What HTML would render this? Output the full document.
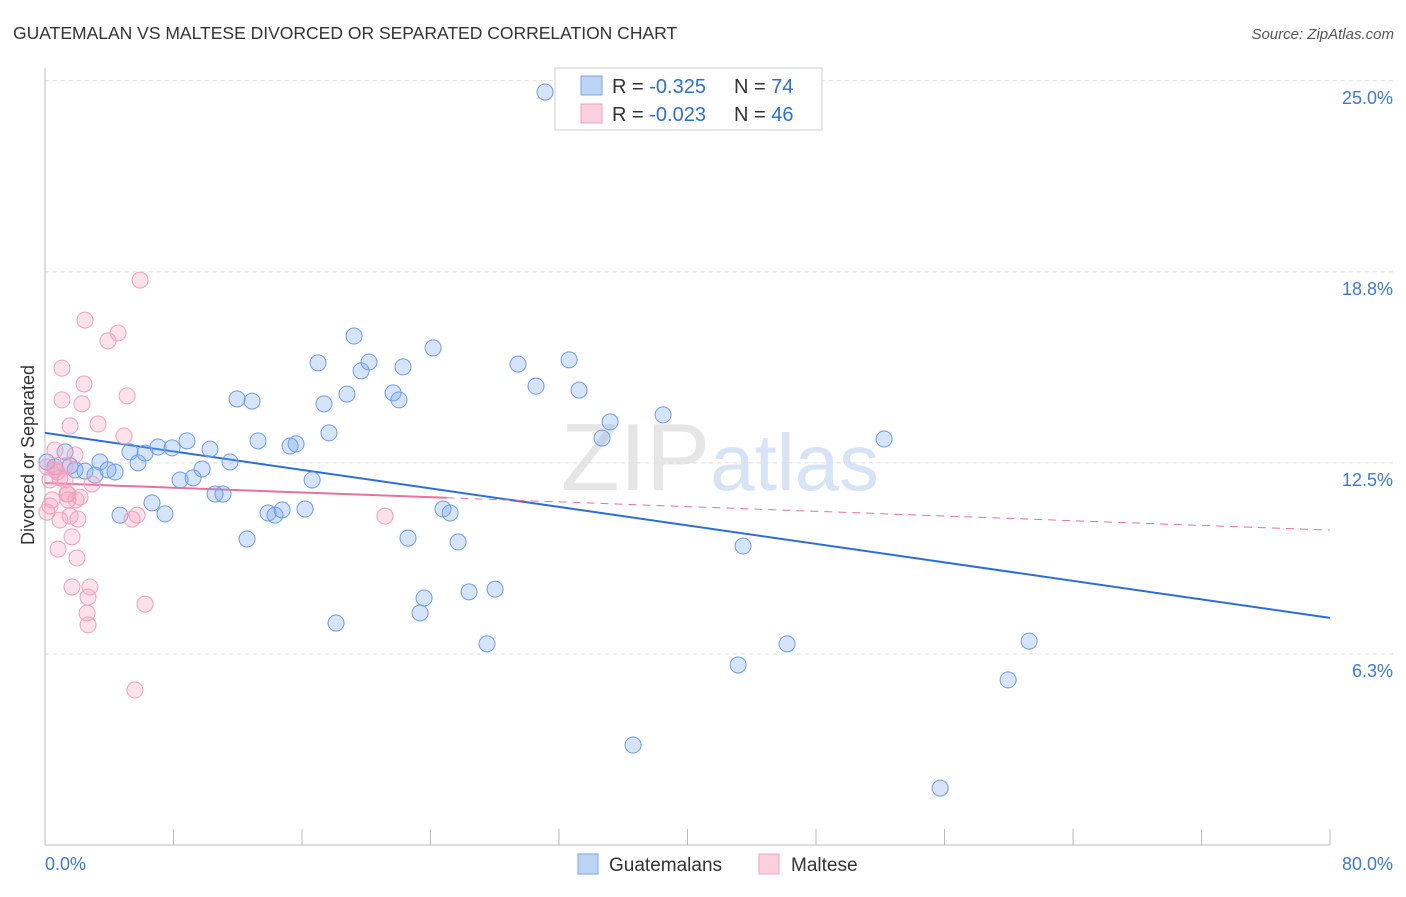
<!DOCTYPE html>
<html><head><meta charset="utf-8"><style>
body{margin:0;background:#fff;font-family:"Liberation Sans",sans-serif}
svg text{font-family:"Liberation Sans",sans-serif}
</style></head><body>
<svg id="chart" width="1406" height="892" viewBox="0 0 1406 892" xmlns="http://www.w3.org/2000/svg">
<text x="13" y="39" font-size="17.5" fill="#333">GUATEMALAN VS MALTESE DIVORCED OR SEPARATED CORRELATION CHART</text>
<text x="1394" y="39" font-size="15" fill="#555" text-anchor="end" font-style="italic">Source: ZipAtlas.com</text>
<text x="720" y="490" font-size="96" text-anchor="middle" fill="#e6e6e6" font-family="Liberation Serif"><tspan>ZIP</tspan><tspan fill="#d6e4f5" font-family="Liberation Sans" font-size="80">atlas</tspan></text>
<text transform="translate(34,455) rotate(-90)" font-size="18" fill="#333" text-anchor="middle">Divorced or Separated</text>
<g id="grid"></g><g id="axes"></g><g id="trend"></g><g id="points"></g>
<g>
<rect x="555" y="68" width="267" height="62" fill="#fff" stroke="#ccc"/>
<rect x="581" y="76" width="21" height="19" fill="#bcd4f5" stroke="#7aa6e6"/>
<rect x="581" y="104" width="21" height="19" fill="#fbcfdc" stroke="#f0a0bc"/>
<text x="612" y="93" font-size="20" fill="#333">R = <tspan fill="#2b6fd6">-0.325</tspan></text>
<text x="734" y="93" font-size="20" fill="#333">N = <tspan fill="#2b6fd6">74</tspan></text>
<text x="612" y="121" font-size="20" fill="#333">R = <tspan fill="#2b6fd6">-0.023</tspan></text>
<text x="734" y="121" font-size="20" fill="#333">N = <tspan fill="#2b6fd6">46</tspan></text>
</g>
<g>
<rect x="578" y="854" width="20" height="20" fill="#bcd4f5" stroke="#7aa6e6"/>
<text x="609" y="871" font-size="19" fill="#333">Guatemalans</text>
<rect x="759" y="854" width="20" height="20" fill="#fbcfdc" stroke="#f0a0bc"/>
<text x="791" y="871" font-size="19" fill="#333">Maltese</text>
</g>
</svg>
<script>
const yTicks=[25,18.75,12.5,6.25];
const yTickLabels=["25.0%","18.8%","12.5%","6.3%"];
const xLabels=["0.0%","80.0%"];
const blueX=[31.13,0.12,0.62,1.25,1.56,1.87,2.49,3.11,3.42,3.92,4.36,4.67,5.29,5.79,6.23,6.66,7.04,7.47,7.91,8.41,8.84,9.22,9.78,10.27,10.59,11.08,11.52,11.96,12.58,12.89,13.26,13.89,14.32,14.76,15.26,15.63,16.19,16.63,17.00,17.37,17.68,18.12,18.80,19.24,19.68,20.17,21.67,22.04,22.29,22.60,23.35,23.60,24.16,24.78,25.22,25.72,26.40,27.52,28.02,29.45,30.57,32.63,33.25,34.68,35.18,36.61,38.48,43.15,43.46,46.20,52.24,55.73,59.96,61.27];
const blueY=[24.63,12.53,12.37,12.86,12.40,12.27,12.23,12.10,12.53,12.27,12.20,10.79,12.86,12.50,12.82,11.19,13.02,10.83,12.99,11.94,13.22,12.01,12.30,12.95,11.48,11.48,12.53,14.59,10.01,14.52,13.22,10.86,10.79,10.96,13.05,13.12,10.99,11.94,15.77,14.43,13.48,7.26,14.75,16.65,15.51,15.80,14.79,14.56,15.64,10.04,7.59,8.08,16.26,10.99,10.86,9.91,8.28,6.58,8.37,15.73,15.01,15.87,14.88,13.31,13.84,3.27,14.07,5.89,9.78,6.58,13.28,1.86,5.40,6.67];
const pinkX=[0.12,0.31,0.44,0.62,0.75,0.93,0.81,1.06,1.06,1.25,1.37,1.43,1.56,1.56,1.68,1.68,1.87,1.93,2.05,1.99,2.30,2.43,2.49,2.68,2.62,2.68,2.80,2.93,3.30,3.92,4.55,4.92,5.11,5.42,5.60,5.73,5.92,6.23,21.17,0.12,0.31,0.62,0.93,1.25,1.43,2.18];
const pinkY=[12.37,11.94,11.29,12.92,12.20,10.63,9.68,15.60,14.56,11.94,11.48,11.29,13.71,10.76,10.08,8.44,12.76,11.29,10.66,9.39,14.43,15.08,17.17,8.11,7.59,7.20,8.44,11.81,13.77,16.49,16.75,13.38,14.69,10.66,5.07,10.79,18.48,7.88,10.76,10.89,11.09,12.27,12.01,12.40,11.48,11.38];
const blueTrend=[13.48,7.43];
const pinkTrend=[11.84,10.30];
const NS="http://www.w3.org/2000/svg";
const xs=v=>45+v*(1285/80);
const ys=v=>845-v*30.57;
function mk(tag,attrs,parent){const e=document.createElementNS(NS,tag);for(const k in attrs)e.setAttribute(k,attrs[k]);document.getElementById(parent).appendChild(e);return e;}
yTicks.forEach((t,i)=>{
 const g=mk('line',{x1:45,x2:1394,y1:ys(t),y2:ys(t),stroke:'#ddd','stroke-dasharray':'4,4'},'grid');
 
 
 const l=mk('text',{x:1393,y:ys(t)+23,'font-size':18,fill:'#3b7ad8','text-anchor':'end'},'grid');
 l.textContent=yTickLabels[i];
 
 
});
const ax=mk('line',{x1:45,x2:45,y1:68,y2:845,stroke:'#bbb'},'axes');


const bx=mk('line',{x1:45,x2:1330,y1:845,y2:845,stroke:'#bbb'},'axes');


for(let v=0;v<=80;v+=8){
 const t=mk('line',{x1:xs(v),x2:xs(v),y1:829,y2:845,stroke:'#bbb'},'axes');
 
 
}
[0,80].forEach((v,i)=>{
 const l=mk('text',{x:i?1393:45,y:870,'font-size':18,fill:'#3b7ad8','text-anchor':i?'end':'start'},'axes');
 l.textContent=xLabels[i];
 
 
});
blueX.forEach((x,i)=>{
 const c=mk('circle',{cx:xs(x),cy:ys(blueY[i]),r:8,fill:'rgba(120,165,235,0.3)',stroke:'#6d9de2','stroke-width':1},'points');
 
 
});
pinkX.forEach((x,i)=>{
 const c=mk('circle',{cx:xs(x),cy:ys(pinkY[i]),r:8,fill:'rgba(245,160,190,0.3)',stroke:'#f0a0bc','stroke-width':1},'points');
 
 
});
const bt=mk('line',{x1:xs(0),y1:ys(blueTrend[0]),x2:xs(80),y2:ys(blueTrend[1]),stroke:'#2b6fd6','stroke-width':2},'trend');


const pAt=x=>pinkTrend[0]+(pinkTrend[1]-pinkTrend[0])*x/80;
const pt=mk('line',{x1:xs(0),y1:ys(pinkTrend[0]),x2:xs(25),y2:ys(pAt(25)),stroke:'#e8729a','stroke-width':2},'trend');


const pd=mk('line',{x1:xs(25),y1:ys(pAt(25)),x2:xs(80),y2:ys(pinkTrend[1]),stroke:'#e8729a','stroke-width':1,'stroke-dasharray':'8,6'},'trend');


</script>
</body></html>
